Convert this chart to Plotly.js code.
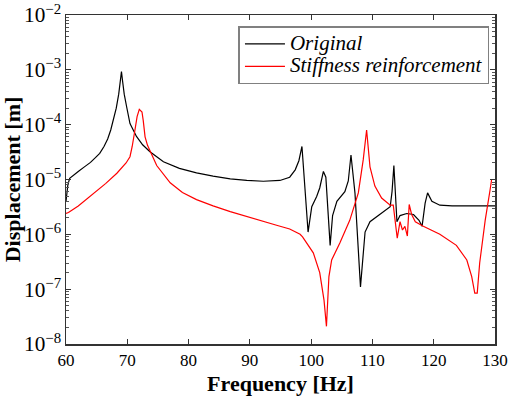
<!DOCTYPE html>
<html><head><meta charset="utf-8">
<script src="https://cdn.plot.ly/plotly-3.0.1.min.js"></script>
<style>html,body{margin:0;padding:0;background:#fff}#chart{width:508px;height:398px}</style>
</head><body><div id="chart"></div>
<script>
const origFreq = [60, 60.3, 60.6, 61.2, 62, 63, 64, 64.8, 65.5, 66.2, 66.8, 67.3, 67.8, 68.2, 68.6, 68.85, 69.05, 69.25, 69.5, 69.9, 70.44, 71.5, 72.5, 73.7, 75.9, 78.5, 81.3, 84, 86.8, 89.5, 92.2, 94.9, 96.5, 97.4, 98.0, 98.5, 99.5, 100.1, 100.9, 101.4, 102.0, 102.4, 103.1, 103.5, 104.2, 105.5, 106.06, 106.5, 107.15, 108.05, 108.8, 109.6, 111.2, 112.9, 113.2, 113.5, 114.0, 114.5, 115.6, 116.7, 117.6, 118.1, 118.6, 119.0, 119.7, 121.0, 123, 130];
const origDisp = [4e-6, 8e-6, 1.05e-5, 1.2e-5, 1.4e-5, 1.7e-5, 2.05e-5, 2.5e-5, 3.0e-5, 4.0e-5, 5.5e-5, 8e-5, 1.25e-4, 2.0e-4, 3.6e-4, 6e-4, 9.3e-4, 6e-4, 3.6e-4, 2.1e-4, 1.05e-4, 6.1e-5, 4.3e-5, 3.2e-5, 2.1e-5, 1.6e-5, 1.32e-5, 1.15e-5, 1.03e-5, 9.6e-6, 9.3e-6, 9.6e-6, 1.1e-5, 1.5e-5, 2.2e-5, 4e-5, 1.1e-6, 3.2e-6, 4.9e-6, 7e-6, 1.4e-5, 1.1e-5, 6.3e-7, 2.2e-6, 4e-6, 6e-6, 9.4e-6, 2.8e-5, 5.7e-6, 1.1e-7, 1.1e-6, 1.7e-6, 2.3e-6, 3.2e-6, 6e-6, 1.8e-5, 1.7e-6, 2.2e-6, 2.4e-6, 2.3e-6, 1.8e-6, 1.4e-6, 3.7e-6, 5.7e-6, 4e-6, 3.4e-6, 3.3e-6, 3.3e-6];

const stiffFreq = [60, 60.4, 62, 64.5, 66.5, 68.3, 69.8, 70.44, 70.8, 71.25, 71.6, 71.96, 72.4, 72.6, 72.9, 73.3, 73.7, 74.8, 77.0, 79, 81.3, 84, 86.8, 89.5, 92.2, 94.5, 96.5, 98.2, 98.6, 99.0, 99.7, 100.35, 101.4, 102.1, 102.5, 102.9, 103.35, 104.7, 106.3, 107.7, 108.5, 109.05, 109.6, 110.4, 111.5, 112.9, 113.4, 114.05, 114.5, 114.9, 115.3, 115.7, 116.0, 116.4, 117.0, 118.3, 121.0, 123.7, 125.4, 126.2, 126.7, 127.1, 127.5, 128.4, 129.2, 129.45, 130];
const stiffDisp = [2.4e-6, 2.5e-6, 3.3e-6, 5.5e-6, 8.5e-6, 1.3e-5, 2.0e-5, 2.6e-5, 4e-5, 8e-5, 1.4e-4, 1.9e-4, 1.7e-4, 1.2e-4, 6e-5, 4.2e-5, 3.3e-5, 1.8e-5, 8.7e-6, 5.8e-6, 4.3e-6, 3.3e-6, 2.6e-6, 2.1e-6, 1.75e-6, 1.45e-6, 1.25e-6, 1.0e-6, 9e-7, 7.8e-7, 6e-7, 4.6e-7, 2e-7, 6.3e-8, 2.1e-8, 1.7e-7, 3.4e-7, 7e-7, 1.8e-6, 5.7e-6, 2.3e-5, 8e-5, 1.7e-5, 7.6e-6, 4.6e-6, 3.4e-6, 3.4e-6, 8.5e-7, 1.7e-6, 1.2e-6, 1.4e-6, 9.3e-7, 3.5e-6, 2.3e-6, 1.7e-6, 1.4e-6, 1e-6, 6.3e-7, 3.4e-7, 1.7e-7, 8.5e-8, 8.5e-8, 3e-7, 1.8e-6, 6.5e-6, 1e-5, 1e-5];

const seriesNames = ['Original', 'Stiffness reinforcement'];
const xTicks = [60, 70, 80, 90, 100, 110, 120, 130];

const font = "'Liberation Serif', 'Times New Roman', serif";
const legendLabel = s => '<span style="font-size:21px">' + s + '</span>';
const traces = [
  {x: origFreq, y: origDisp, name: legendLabel(seriesNames[0]), mode: 'lines', line: {color: '#000000', width: 1.2}},
  {x: stiffFreq, y: stiffDisp, name: legendLabel(seriesNames[1]), mode: 'lines', line: {color: '#ff0000', width: 1.2}}
];
const layout = {
  width: 508, height: 398,
  margin: {l: 66, r: 13, t: 15, b: 54},
  paper_bgcolor: '#fff', plot_bgcolor: '#fff',
  font: {family: font, size: 17, color: '#000'},
  showlegend: true,
  legend: {x: 0.402, y: 0.966, xanchor: 'left', yanchor: 'top',
    font: {family: font, size: 15, style: 'italic'},
    bordercolor: '#808080', borderwidth: 1.5, bgcolor: '#fff',
    tracegroupgap: 0, itemwidth: 40},
  xaxis: {range: [60, 130], tickvals: xTicks, ticktext: xTicks.map(String),
    ticks: 'inside', ticklen: 5, tickcolor: '#333', mirror: 'ticks', showline: true,
    linecolor: '#333', linewidth: 1.5, showgrid: false, zeroline: false,
    tickfont: {family: font, size: 17},
    title: {text: 'Frequency [Hz]', font: {family: font, size: 22, weight: 'bold'}, standoff: 6}},
  yaxis: {type: 'log', range: [-8, -2], dtick: 1, exponentformat: 'power',
    ticks: 'inside', ticklen: 5, tickcolor: '#333', mirror: 'ticks', showline: true,
    linecolor: '#333', linewidth: 1.5, showgrid: false, zeroline: false,
    tickfont: {family: font, size: 17},
    minor: {ticks: 'inside', ticklen: 3, tickcolor: '#555', showgrid: false},
    title: {text: 'Displacement [m]', font: {family: font, size: 22, weight: 'bold'}, standoff: 4}}
};
Plotly.newPlot('chart', traces, layout, {displayModeBar: false, staticPlot: true});
</script></body></html>
